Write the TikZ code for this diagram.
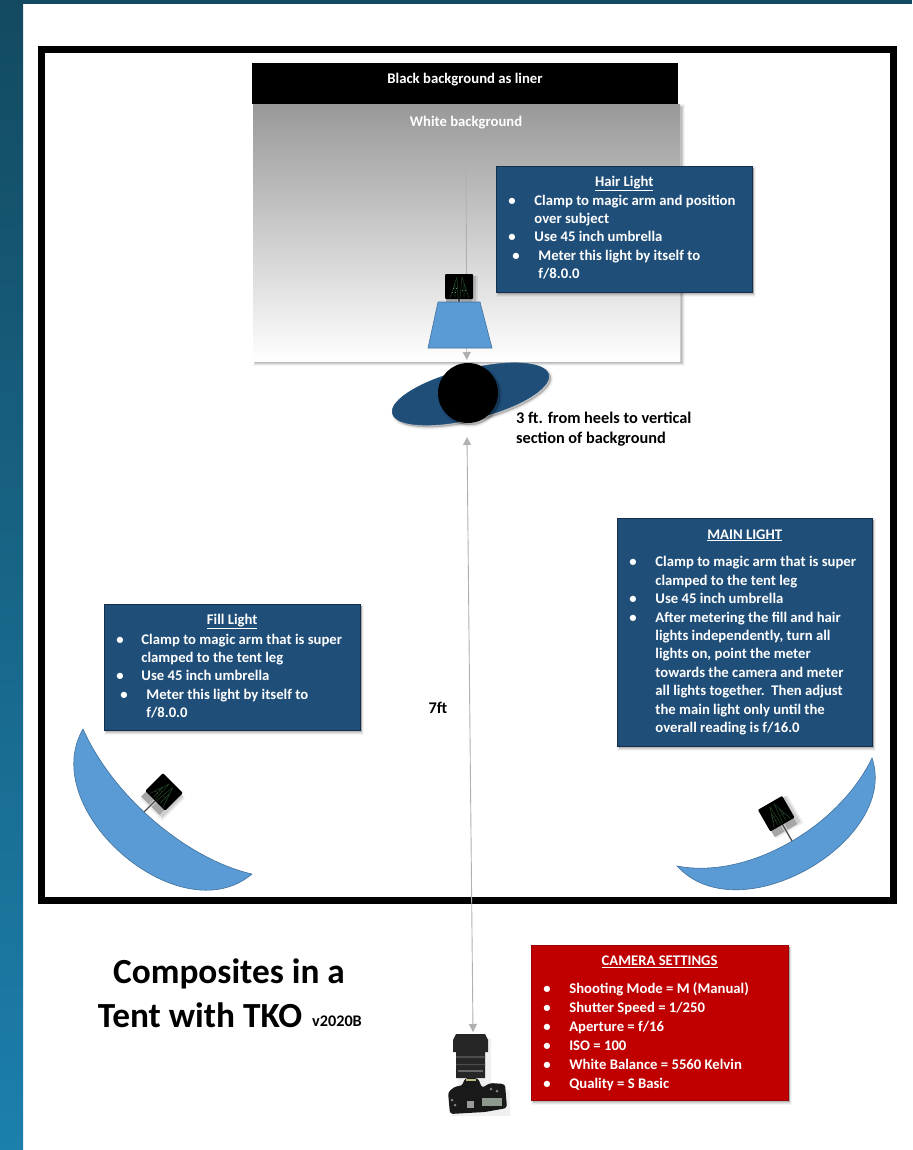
\documentclass[tikz,border=0pt]{standalone}
\usepackage{fontspec}
\setmainfont{Carlito}
\usetikzlibrary{arrows.meta}
\definecolor{navybox}{HTML}{1F4E79}
\definecolor{navyedge}{HTML}{142F4A}
\definecolor{redbox}{HTML}{C00000}
\definecolor{lightblue}{HTML}{5B9BD5}
\definecolor{lightedge}{HTML}{41719C}
\definecolor{arrowgray}{HTML}{B0B0B0}
\definecolor{barTop}{HTML}{134A61}
\definecolor{barBot}{HTML}{1C7FAC}
\definecolor{camlcd}{HTML}{8E9A8E}
\definecolor{lampgreen}{HTML}{1E3F22}
\definecolor{lampdots}{HTML}{5F8F68}
\tikzset{
  softshadow/.style={
    preaction={draw=black,fill=black,opacity=.04,line width=5pt,transform canvas={shift={(2pt,-2pt)}}},
    preaction={draw=black,fill=black,opacity=.06,line width=3pt,transform canvas={shift={(2pt,-2pt)}}},
    preaction={draw=black,fill=black,opacity=.10,line width=1pt,transform canvas={shift={(2pt,-2pt)}}}},
  infobox/.style={rectangle,draw=navyedge,line width=.9pt,fill=navybox,text=white,inner sep=0pt,softshadow},
  camerabox/.style={rectangle,draw=redbox!80!black,line width=.6pt,fill=redbox,text=white,inner sep=0pt,softshadow},
  bluepart/.style={draw=lightedge,line width=.6pt,fill=lightblue},
  dimline/.style={draw=arrowgray,line width=.9pt},
  dimtip/.style={-{Triangle[width=8pt,length=8pt,color=arrowgray]}},
  dimboth/.style={{Triangle[width=8pt,length=8pt,color=arrowgray]}-{Triangle[width=8pt,length=8pt,color=arrowgray]}},
  plain/.style={inner sep=0pt,text=black,font=\fontsize{16.3}{20}\selectfont\bfseries}
}
\newcommand{\boxfont}{\fontsize{14.7}{18.4}\selectfont\bfseries\color{white}}
\newcommand{\bl}[3]{\par\noindent\makebox[#2pt][l]{\hspace{#1pt}\textbullet}#3\par}
\newcommand{\cont}[2]{\par\noindent\hspace*{#1pt}#2\par}
\newcommand{\boxbody}[4]{\begin{minipage}[t][#2pt][t]{#1pt}\vspace{0pt}\vspace{#3pt}\boxfont\raggedright\setlength{\parskip}{0pt}#4\end{minipage}}
\newcommand{\boxtitle}[1]{\par\noindent\hbox to \linewidth{\hss\underline{#1}\hss}\par}
\newcommand{\lamp}[3]{%
  \begin{scope}[shift={(#1,#2)},rotate=#3]
    \fill[black,opacity=.08] (-12,-12) rectangle (19,20);
    \fill[black,opacity=.12] (-12,-12) rectangle (17,18);
    \draw[line width=1.3pt,black!70] (0,10) -- (0,31);
    \fill[black!35] (-13,8) rectangle (-2,18);
    \fill[black!35] (2,8) rectangle (13,18);
    \fill[black,rounded corners=1pt] (-14,-14) rectangle (14,11);
    \draw[lampgreen,line width=.6pt] (-2,-11) -- (-9,10) (-2,-11) -- (-1,10) (-4,-4) -- (-4,9);
    \draw[lampgreen,line width=.6pt] (3,-11) -- (10,10) (3,-11) -- (1,10) (5,-4) -- (5,9);
    \draw[lampdots,line width=.3pt,dash pattern=on 1pt off 2pt] (-6,0) -- (-2,0) (-7,4) -- (-1,4) (3,2) -- (8,2);
  \end{scope}}
\begin{document}
\begin{tikzpicture}[x=1pt,y=-1pt]
\useasboundingbox (0,0) rectangle (912,1150);
% page
\fill[white] (0,0) rectangle (912,1150);
\fill[barTop] (0,0) rectangle (912,4);
\shade[top color=barTop,bottom color=barBot] (0,0) rectangle (23,1150);
% frame
\node[draw=black,line width=7pt,minimum width=852pt,minimum height=851pt,inner sep=0pt] (frame) at (467.5,475) {};
% backgrounds
\node[rectangle,inner sep=0pt,minimum width=427pt,minimum height=256pt,top color=black!40,bottom color=white,softshadow] (whitebg) at (466.5,233) {};
\node[rectangle,fill=black,minimum width=426pt,minimum height=41pt,inner sep=0pt] (liner) at (465,83.5) {};
\node[inner sep=0pt,text=white,font=\fontsize{14.7}{16}\selectfont\bfseries] (linerlabel) at (465,80) {Black background as liner};
\node[inner sep=0pt,text=white,font=\fontsize{14.7}{16}\selectfont\bfseries] (whitelabel) at (466,123) {White background};
% connectors behind
\coordinate (hairstart) at (466,145);
\coordinate (subjecttop) at (466.8,360);
\draw[dimline,dimtip] (hairstart) -- (subjecttop);
% hair light
\lamp{459}{288}{0}
\draw[bluepart] (438,302) -- (480,302) -- (492,348) -- (428,348) -- cycle;
% subject
\draw[navybox,fill=navybox,softshadow,rotate around={14:(470.5,394)}] (470.5,394) ellipse [x radius=80.5pt,y radius=25pt];
\node[circle,fill=black,minimum size=60pt,inner sep=0pt,softshadow] (subject) at (468,393) {};
% 7ft arrow
\coordinate (headend) at (467,437);
\coordinate (cameraend) at (473,1032);
\draw[dimline,dimboth] (headend) -- (cameraend);
% info boxes
\node[infobox,anchor=north west,minimum width=255.5pt,minimum height=126pt] (hairbox) at (496,166) {\boxbody{255.5}{126}{10}{%
  \boxtitle{Hair Light}
  \bl{12}{38}{Clamp to magic arm and position}
  \cont{38}{over subject}
  \bl{12}{38}{Use 45 inch umbrella}
  \bl{16}{42}{Meter this light by itself to}
  \cont{42}{f/8.0.0}}};
\node[infobox,anchor=north west,minimum width=255.5pt,minimum height=126pt] (fillbox) at (104,604) {\boxbody{255.5}{126}{10}{%
  \boxtitle{Fill Light}\vspace{1pt}
  \bl{12}{37}{Clamp to magic arm that is super}
  \cont{37}{clamped to the tent leg}
  \bl{12}{37}{Use 45 inch umbrella}
  \bl{16}{42}{Meter this light by itself to}
  \cont{42}{f/8.0.0}}};
\node[infobox,anchor=north west,minimum width=254.5pt,minimum height=228pt] (mainbox) at (617,518) {\boxbody{254.5}{228}{11}{%
  \boxtitle{MAIN LIGHT}\vspace{9.5pt}
  \bl{12}{38}{Clamp to magic arm that is super}
  \cont{38}{clamped to the tent leg}
  \bl{12}{38}{Use 45 inch umbrella}
  \bl{12}{38}{After metering the fill and hair}
  \cont{38}{lights independently, turn all}
  \cont{38}{lights on, point the meter}
  \cont{38}{towards the camera and meter}
  \cont{38}{all lights together.\ \ Then adjust}
  \cont{38}{the main light only until the}
  \cont{38}{overall reading is f/16.0}}};
\node[camerabox,anchor=north west,minimum width=256.5pt,minimum height=155pt] (settings) at (531,945) {\boxbody{256.5}{155}{11}{%
  \boxtitle{CAMERA SETTINGS}\vspace{9pt}
  \setlength{\baselineskip}{19pt}
  \bl{12}{38}{Shooting Mode = M (Manual)}
  \bl{12}{38}{Shutter Speed = 1/250}
  \bl{12}{38}{Aperture = f/16}
  \bl{12}{38}{ISO = 100}
  \bl{12}{38}{White Balance = 5560 Kelvin}
  \bl{12}{38}{Quality = S Basic}}};
% side lights and umbrellas
\lamp{163}{793}{-45}
\lamp{777}{815}{30}
\draw[bluepart] (83,729) .. controls (36,810) and (180,935) .. (252,874)
  .. controls (190,860) and (115,800) .. (83,729) -- cycle;
\draw[bluepart] (872,758) .. controls (900,840) and (740,935) .. (677,866)
  .. controls (750,880) and (840,825) .. (872,758) -- cycle;
% camera
\begin{scope}
  \fill[black,opacity=.06] (458,1038) rectangle (491,1090) (452,1090) rectangle (510,1116);
  \fill[black!85] (453,1040) -- (456,1034) -- (485,1034) -- (488,1040) -- (488,1052) -- (485,1052) -- (485,1078) -- (456,1078) -- (456,1052) -- (453,1052) -- cycle;
  \fill[black!90,rounded corners=3pt] (448,1092) -- (456,1086) -- (462,1086) -- (465,1078) -- (478,1078) -- (482,1088) -- (490,1083) -- (505,1084) -- (507,1108) -- (485,1112) -- (450,1114) -- cycle;
  \fill[black!70] (456,1056) rectangle (485,1058) (456,1064) rectangle (485,1065);
  \fill[black!60] (458,1070) rectangle (483,1072);
  \fill[black!50!yellow!60!white] (466,1079) rectangle (476,1081);
  \fill[black!40] (467,1101) rectangle (474,1108);
  \fill[camlcd] (482,1098) rectangle (502,1106);
  \fill[black!50] (452,1100) circle (1.5) (455,1105) circle (1.5) (497,1091) circle (1.5) (491,1089) circle (1.5);
\end{scope}
% free labels
\node[plain,anchor=west,align=left] (heels) at (516,429) {3 ft. from heels to vertical\\section of background};
\node[plain] (sevenft) at (438,708) {7ft};
\node[inner sep=0pt,text=black,font=\fontsize{35.3}{40}\selectfont\bfseries] (titleone) at (229,974) {Composites in a};
\node[inner sep=0pt,text=black,font=\fontsize{35.3}{40}\selectfont\bfseries] (titletwo) at (200,1015) {Tent with TKO};
\node[inner sep=0pt,text=black,font=\fontsize{16.2}{18}\selectfont\bfseries,anchor=west] (version) at (312,1021) {v2020B};
\end{tikzpicture}
\end{document}
